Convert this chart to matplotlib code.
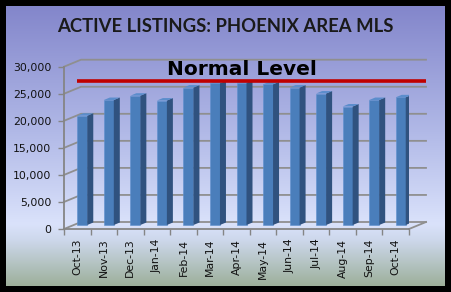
import numpy as np
import matplotlib
matplotlib.use("Agg")
import matplotlib.pyplot as plt
from matplotlib.patches import Polygon
from matplotlib.colors import LinearSegmentedColormap
from matplotlib.ticker import FuncFormatter, FixedLocator

# --- DATA ---
months = ["Oct-13", "Nov-13", "Dec-13", "Jan-14", "Feb-14", "Mar-14", "Apr-14",
          "May-14", "Jun-14", "Jul-14", "Aug-14", "Sep-14", "Oct-14"]
listings = [20200, 23100, 23900, 23000, 25400, 26200, 26300,
            26000, 25400, 24300, 21900, 23100, 23600]
normal_level = 27300
y_ticks = [0, 5000, 10000, 15000, 20000, 25000, 30000]

W, H = 451, 292
fig = plt.figure(figsize=(W / 100, H / 100), dpi=100)
fig.patch.set_facecolor("black")

# gradient background inside the black frame
bg = fig.add_axes([6 / W, 6 / H, 439 / W, 280 / H])
cmap = LinearSegmentedColormap.from_list(
    "bg", [(0.0, "#8386cb"), (0.45, "#b1b9e7"), (0.78, "#dae2fb"),
           (0.84, "#ccd7ea"), (1.0, "#9db09b")])
bg.imshow(np.linspace(0, 1, 256).reshape(-1, 1), cmap=cmap, aspect="auto",
          extent=[0, 1, 1, 0])
bg.set_axis_off()

# main axes = front plane of the 3d box
ax_l, ax_r, ax_b, ax_t = 64, 409, 229, 66.7
ax = fig.add_axes([ax_l / W, (H - ax_b) / H, (ax_r - ax_l) / W, (ax_b - ax_t) / H])
ax.patch.set_visible(False)
n = len(months)
ax.set_xlim(-0.5, n - 0.5)
ax.set_ylim(0, 30000)

# pixel -> data unit helpers
ux = n / (ax_r - ax_l)
uy = 30000 / (ax_b - ax_t)
ddx, ddy = 17 * ux, 7 * uy          # depth of the box
grid_c = "#8f8f8f"

# back wall gridlines + left wall diagonals
for y in y_ticks:
    ax.plot([-0.5, -0.5 + ddx, n - 0.5 + ddx], [y, y + ddy, y + ddy],
            color=grid_c, lw=1.3, clip_on=False, zorder=1)
ax.plot([n - 0.5, n - 0.5 + ddx], [0, ddy], color=grid_c, lw=1.3,
        clip_on=False, zorder=1)

# bars with fake 3d sides
fw = 10 * ux
sdx, sdy = 6 * ux, 2.5 * uy
base = 4 * uy
x = np.arange(n)
ax.bar(x, listings, width=fw, bottom=base, align="edge", color="#4a7ebb",
       edgecolor="#5d8fcf", linewidth=0.4, zorder=3)
for xi, v in zip(x, listings):
    side = [(xi + fw, base), (xi + fw + sdx, base + sdy),
            (xi + fw + sdx, base + v + sdy), (xi + fw, base + v)]
    top = [(xi, base + v), (xi + fw, base + v),
           (xi + fw + sdx, base + v + sdy), (xi + sdx, base + v + sdy)]
    ax.add_patch(Polygon(side, closed=True, facecolor="#30527f",
                         edgecolor="none", zorder=3))
    ax.add_patch(Polygon(top, closed=True, facecolor="#5b8dcc",
                         edgecolor="none", zorder=3))

# normal level line + label
ax.plot([-0.02, n - 0.5 + ddx], [normal_level, normal_level], color="#c00000",
        lw=2.6, clip_on=False, zorder=5, solid_capstyle="butt")
ax.annotate("Normal Level", xy=((242 - ax_l) * ux - 0.5, normal_level),
            xytext=(0, 1.5), textcoords="offset points", ha="center",
            va="bottom", fontsize=14.5, fontweight="bold",
            family="DejaVu Sans", color="black", zorder=6,
            annotation_clip=False)

# axes styling
for s in ["top", "right"]:
    ax.spines[s].set_visible(False)
for s in ["left", "bottom"]:
    ax.spines[s].set_color("#858585")
    ax.spines[s].set_linewidth(1.3)
ax.set_yticks(y_ticks)
ax.yaxis.set_major_formatter(FuncFormatter(lambda v, p: f"{int(v):,}"))
ax.tick_params(axis="y", length=4, width=1, color="#858585", pad=5,
               labelsize=7.8, labelcolor="#111111")
ax.set_xticks(x)
ax.set_xticklabels(months, rotation=90)
ax.xaxis.set_minor_locator(FixedLocator(np.arange(-0.5, n, 1.0)))
ax.tick_params(axis="x", which="major", length=0, pad=7, labelsize=7.8,
               labelcolor="#111111")
ax.tick_params(axis="x", which="minor", length=4, width=1, color="#858585")
for lab in ax.get_yticklabels() + ax.get_xticklabels():
    lab.set_family("DejaVu Sans")

fig.text(225 / W, 1 - 26 / H, "ACTIVE LISTINGS: PHOENIX AREA MLS",
         ha="center", va="center", fontsize=13.3, fontweight="bold",
         family="Lato", color="#1a1a1a")

fig.savefig("out.png", dpi=100, facecolor=fig.get_facecolor())
